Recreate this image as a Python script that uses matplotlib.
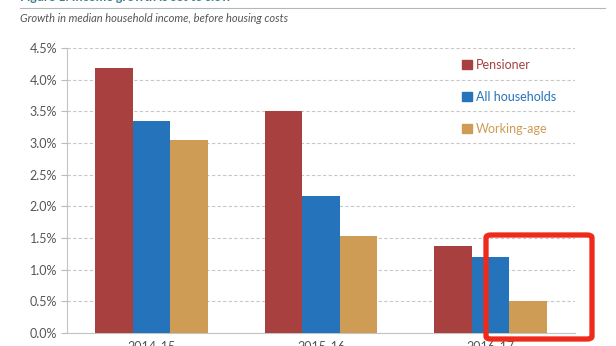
import numpy as np
import matplotlib.pyplot as plt
from matplotlib.patches import FancyBboxPatch, Patch
from matplotlib.lines import Line2D

plt.rcParams['font.family'] = ['Lato', 'DejaVu Sans']

# Data
years = ['2014-15', '2015-16', '2016-17']
series = ['Pensioner', 'All households', 'Working-age']
pensioner = [4.19, 3.51, 1.38]
all_households = [3.35, 2.16, 1.20]
working_age = [3.04, 1.53, 0.51]
yticks = [0.0, 0.5, 1.0, 1.5, 2.0, 2.5, 3.0, 3.5, 4.0, 4.5]

colors = ['#A8403F', '#2473BB', '#CF9C55']
values = [pensioner, all_households, working_age]

fig = plt.figure(figsize=(6.16, 3.46), dpi=100)
ax = fig.add_axes([67 / 616, 1 - 333 / 346, 508 / 616, 285 / 346])

x = np.arange(len(years))
w = 0.222
for i, (vals, c) in enumerate(zip(values, colors)):
    ax.bar(x + (i - 1) * w, vals, width=w, color=c, zorder=3)

ax.set_xlim(-0.5, 2.5)
ax.set_ylim(0, 4.5)
ax.set_yticks(yticks)
ax.set_yticklabels(['%.1f%%' % v for v in yticks])
ax.set_xticks(x)
ax.set_xticklabels(years)
ax.tick_params(axis='y', length=4, color='#bbbbbb', labelcolor='#555555',
               labelsize=9, pad=3)
ax.tick_params(axis='x', length=0, labelcolor='#555555', labelsize=9, pad=6)
ax.yaxis.grid(True, linestyle=(0, (3, 2)), color='#c8c8c8', linewidth=0.8, zorder=0)
for s in ['top', 'right']:
    ax.spines[s].set_visible(False)
ax.spines['left'].set_color('#c4c4c4')
ax.spines['bottom'].set_color('#c4c4c4')

handles = [Patch(color=c) for c in colors]
ax.legend(handles, series, loc='upper left', bbox_to_anchor=(0.766, 0.985),
          frameon=False, fontsize=9, labelcolor=colors, handlelength=0.75,
          handleheight=0.75, handletextpad=0.3, labelspacing=1.63, borderpad=0)

# header cut off at the top of the screenshot
fig.text(20 / 616, 1 + 3 / 346, 'Figure 1: Income growth is set to slow',
         color='#3d7f91', fontsize=9, fontweight='bold', va='center')
fig.add_artist(Line2D([20 / 616, 605 / 616], [1 - 8 / 346, 1 - 8 / 346],
                      color='#b0b8bc', linewidth=0.8))
fig.text(20 / 616, 1 - 19 / 346,
         'Growth in median household income, before housing costs',
         color='#555555', fontsize=8, style='italic', va='center')

# red highlight box
box = FancyBboxPatch((486 / 616, 1 - 339 / 346), 106 / 616, 104 / 346,
                     boxstyle='round,pad=0,rounding_size=0.008',
                     transform=fig.transFigure, fill=False,
                     edgecolor='#ee2a1b', linewidth=3.8, zorder=10)
fig.add_artist(box)

plt.savefig('out.png', dpi=100)
